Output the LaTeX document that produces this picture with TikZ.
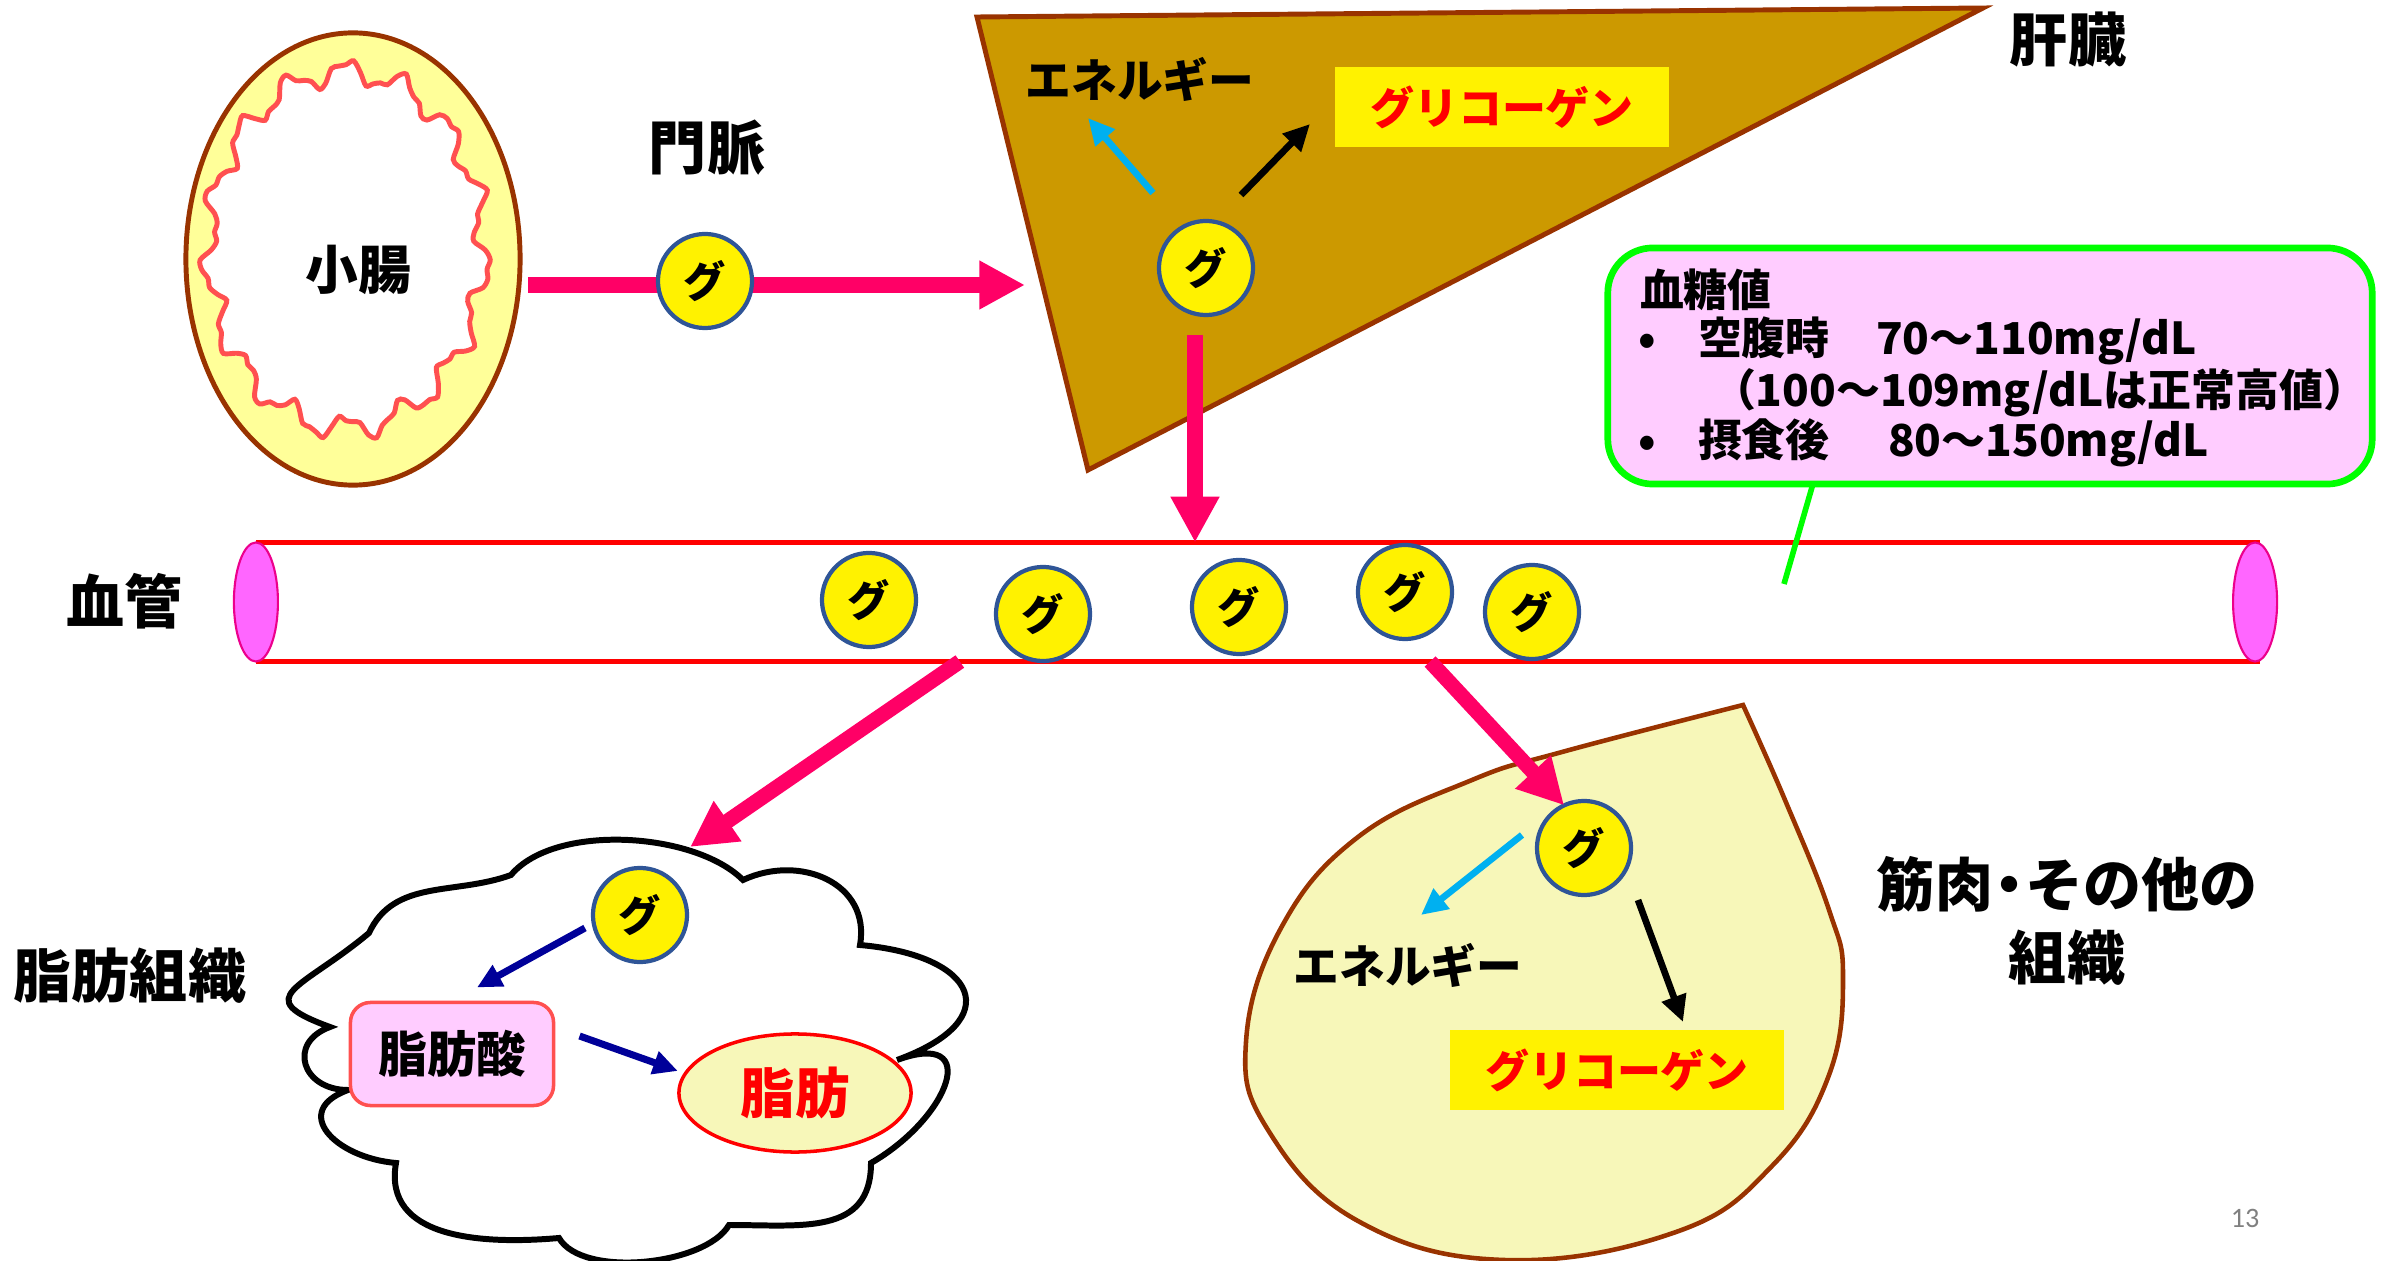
\documentclass[tikz,border=0pt]{standalone}
\usepackage{fontspec}
\setmainfont{Noto Sans CJK JP}
\newfontfamily\pagefont{Carlito}
\usetikzlibrary{arrows.meta,shapes.geometric}

\definecolor{arrowpink}{HTML}{FF0066}
\definecolor{liverfill}{HTML}{CC9900}
\definecolor{organline}{HTML}{993300}
\definecolor{gutfill}{HTML}{FFFF99}
\definecolor{villi}{HTML}{FF5050}
\definecolor{tissuefill}{HTML}{F7F7B9}
\definecolor{glucoseline}{HTML}{2F5597}
\definecolor{vesselend}{HTML}{FF66FF}
\definecolor{notefill}{HTML}{FFCCFF}
\definecolor{noteline}{HTML}{00FF00}
\definecolor{energy}{HTML}{00B0F0}
\definecolor{fatarrow}{HTML}{000099}

% bold Japanese text at a given size
\newcommand{\jtext}[1]{\fontsize{#1}{#1}\selectfont\bfseries}

\begin{document}
\begin{tikzpicture}[x=0.01cm,y=-0.01cm,inner sep=0pt,outer sep=0pt,
    glu/.style={circle,draw=glucoseline,fill=yellow,line width=1.2pt,minimum size=0.94cm,font=\jtext{12pt}},
    organname/.style={font=\jtext{16.5pt}}]

\tikzstyle{bigarrow}=[arrowpink,line width=4.3pt,-{Triangle[length=13pt,width=13pt]}]
\tikzstyle{thinarrow}=[line width=1.9pt,-{Triangle[length=7.5pt,width=7pt]}]
\tikzstyle{fatflow}=[fatarrow,line width=2pt,-{Triangle[length=7pt,width=6.5pt]}]
\tikzstyle{glycogen}=[fill=yellow,text=red,minimum width=3.33cm,minimum height=0.79cm,font=\jtext{12.5pt}]

\useasboundingbox (0,0) rectangle (2399,1261);

% small intestine with its folded wall
\node (gut) at (353,259) [ellipse,draw=organline,fill=gutfill,line width=1.4pt,minimum width=3.34cm,minimum height=4.52cm] {};
\draw[villi,line width=1.4pt,fill=white] plot[smooth cycle,samples=120,domain=0:357]
    ({346+137*(1+0.06*sin(15*\x)+0.025*sin(37*\x+40))*cos(\x)},{250+178*(1+0.06*sin(15*\x)+0.025*sin(37*\x+40))*sin(\x)});
\node (gut name) at (358,270) [font=\jtext{15pt}] {小腸};

% liver
\draw[organline,fill=liverfill,line width=1.4pt] (977,17) -- (1983,8) -- (1088,470) -- cycle;
\node (liver name) at (2068,40) [organname] {肝臓};
\node (liver en) at (1140,79) [font=\jtext{13pt}] {エネルギー};
\node (liver gly) at (1502,107) [glycogen] {グリコーゲン};
\node (liver g) at (1206,268) [glu] {グ};
\coordinate (liver en tip) at (1088,118);
\coordinate (liver gly tip) at (1310,124);
\coordinate (liver in) at (1025,285);
\coordinate (liver out) at (1195,335);
\draw[thinarrow,energy] ([shift={(-53,-75)}]liver g.center) -- (liver en tip);
\draw[thinarrow] ([shift={(35,-73)}]liver g.center) -- (liver gly tip);

% portal vein
\node (portal name) at (707,148) [organname] {門脈};
\draw[bigarrow] ([shift={(8,26)}]gut.east) -- (liver in);
\node (portal g) at (705,281) [glu] {グ};

% blood sugar note
\node (note) at (1990,366) [draw=noteline,fill=notefill,line width=1.9pt,rounded corners=0.45cm,minimum width=7.64cm,minimum height=2.36cm] {};
\node (note title) at (1640,290) [anchor=west,font=\jtext{12.5pt}] {血糖値};
\node (note fast) at (1638,341) [anchor=west,font=\jtext{12.5pt}] {\makebox[0.6cm][l]{•}\makebox[1.78cm][l]{空腹時}70～110mg/dL};
\node (note fast2) at (1712,393) [anchor=west,font=\jtext{12.5pt}] {（100～109mg/dLは正常高値）};
\node (note fed) at (1638,443) [anchor=west,font=\jtext{12.5pt}] {\makebox[0.6cm][l]{•}\makebox[1.9cm][l]{摂食後}80～150mg/dL};

% blood vessel
\node (vessel) at (1258,602) [minimum width=20.03cm,minimum height=1.19cm] {};
\draw[red,line width=1.6pt] (vessel.north west) -- (vessel.north east) (vessel.south west) -- (vessel.south east);
\node (vessel in) at (vessel.west) [ellipse,draw=magenta,fill=vesselend,line width=0.6pt,minimum width=0.44cm,minimum height=1.19cm] {};
\node (vessel out) at ([xshift=-0.05cm]vessel.east) [ellipse,draw=magenta,fill=vesselend,line width=0.6pt,minimum width=0.44cm,minimum height=1.19cm] {};
\node (vessel name) at (125,601) [organname] {血管};
\coordinate (note tip) at (1784,584);
\draw[noteline,line width=1.6pt] ([xshift=-1.77cm]note.south) -- (note tip);
\draw[bigarrow] (liver out) -- (liver out |- vessel.north);
\foreach \n/\x/\y in {1/869/600,2/1043/614,3/1239/607,4/1405/592,5/1532/612}
    \node (v\n) at (\x,\y) [glu] {グ};

% adipose tissue, one puff after another
\draw[line width=1.7pt,fill=white] (511,875) to[out=50,in=135,looseness=0.75] (743,880)
    to[out=25,in=80,looseness=1.2] (860,945) to[out=-5,in=20,looseness=2.5] (897,1060)
    to[out=20,in=30,looseness=2.2] (871,1163) to[out=-90,in=0,looseness=1.2] (729,1225)
    to[out=-120,in=-60,looseness=0.7] (559,1238) to[out=185,in=-100,looseness=1.1] (396,1163)
    to[out=175,in=200,looseness=1.8] (348,1090) to[out=180,in=200,looseness=1.8] (330,1027)
    to[out=160,in=220,looseness=2.2] (369,933) to[out=65,in=200] (511,875) -- cycle;
\node (fat name) at (130,976) [organname] {脂肪組織};
\coordinate (fat in) at (690,847);
\draw[bigarrow] ([xshift=-2.98cm]vessel.south) -- (fat in);
\node (fat g) at (640,915) [glu] {グ};
\node (acid) at (452,1054) [draw=villi,fill=notefill,line width=1pt,rounded corners=0.2cm,minimum width=2.03cm,minimum height=1.03cm,font=\jtext{14pt}] {脂肪酸};
\node (fat drop) at (795,1093) [ellipse,draw=red,fill=tissuefill,line width=1pt,minimum width=2.32cm,minimum height=1.18cm,text=red,font=\jtext{15.5pt}] {脂肪};
\draw[fatflow] ([shift={(-55,13)}]fat g.center) -- ([shift={(25,-15)}]acid.north);
\draw[fatflow,shorten >=0.08cm] ([shift={(26,-18)}]acid.east) -- (fat drop.170);

% muscle and other tissues
\draw[organline,fill=tissuefill,line width=1.3pt] plot[smooth,tension=0.7] coordinates {(1743,705) (1785,800) (1829,910) (1843,976) (1829,1075) (1772,1166) (1676,1232) (1504,1260) (1358,1221) (1268,1130) (1246,1042) (1281,928) (1358,837) (1472,780) (1562,752) (1743,705)} -- cycle;
\node (muscle name) at (2067,884) [organname] {筋肉\makebox[0.55em]{・}その他の};
\node (muscle name2) at (2067,958) [organname] {組織};
\node (muscle en) at (1408,965) [font=\jtext{13pt}] {エネルギー};
\node (muscle gly) at (1617,1070) [glycogen] {グリコーゲン};
\node (muscle g) at (1584,848) [glu] {グ};
\coordinate (muscle en tip) at (1421,915);
\coordinate (muscle gly tip) at (1683,1022);
\draw[bigarrow] ([xshift=1.72cm]vessel.south) -- (muscle g.115);
\draw[thinarrow,energy] ([shift={(-62,-13)}]muscle g.center) -- (muscle en tip);
\draw[thinarrow] ([shift={(54,52)}]muscle g.center) -- (muscle gly tip);

\node (page) at (2245,1218) [text=gray,font=\pagefont\fontsize{8pt}{8pt}\selectfont] {13};
\end{tikzpicture}
\end{document}
